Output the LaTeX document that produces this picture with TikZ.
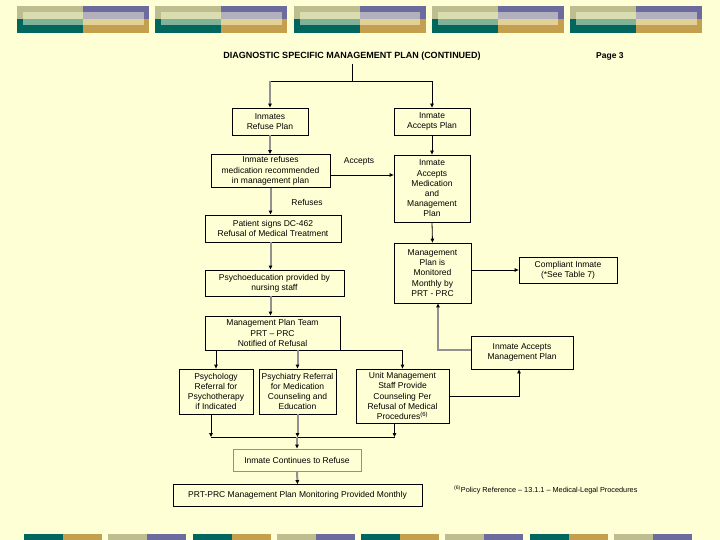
\documentclass[tikz,border=0pt]{standalone}
\usepackage{fontspec}
\setmainfont{Liberation Sans}
\usepackage{tikz}
\usetikzlibrary{arrows.meta}

\definecolor{bg}{RGB}{255,255,214}
\definecolor{lgray}{RGB}{145,145,145}
\definecolor{bandkhaki}{RGB}{189,189,143}
\definecolor{bandpurple}{RGB}{107,107,158}
\definecolor{bandteal}{RGB}{0,102,94}
\definecolor{bandgold}{RGB}{196,160,78}
\definecolor{bandkhakil}{RGB}{218,221,176}
\definecolor{bandpurplel}{RGB}{178,176,190}
\definecolor{bandteall}{RGB}{128,178,154}
\definecolor{bandgoldl}{RGB}{226,209,151}

\tikzset{
  box/.style={draw, line width=0.8pt, fill=bg, align=center, inner sep=1pt,
    font=\fontsize{8.5}{10.2}\selectfont},
  lbl/.style={inner sep=1pt, font=\fontsize{8.5}{10.2}\selectfont},
  line/.style={line width=0.8pt},
  link/.style={line width=0.8pt, -{Triangle[length=4pt,width=3.5pt,color=black]}},
  glink/.style={link, draw=lgray, line width=2pt},
}

\begin{document}
\begin{tikzpicture}[x=1pt,y=-1pt]
    %背景と帯
    \fill[bg] (0,0) rectangle (720,540);
    \useasboundingbox (0,0) rectangle (720,540);
    \foreach \i in {0,...,4}{
      \begin{scope}[xshift={17+138.25*\i}]
        \fill[bandkhaki] (0,6) rectangle (66,19.5);
        \fill[bandpurple] (66,6) rectangle (132,19.5);
        \fill[bandteal] (0,19.5) rectangle (66,33);
        \fill[bandgold] (66,19.5) rectangle (132,33);
        \fill[bandkhakil] (6,12) rectangle (66,19.5);
        \fill[bandpurplel] (66,12) rectangle (126.5,19.5);
        \fill[bandteall] (6,19.5) rectangle (66,25.5);
        \fill[bandgoldl] (66,19.5) rectangle (126.5,25.5);
      \end{scope}
    }
    \foreach \i in {0,2,4,6}{
      \fill[bandteal, xshift={24+84.25*\i}] (0,534) rectangle (39,540);
      \fill[bandgold, xshift={24+84.25*\i}] (39,534) rectangle (78,540);
    }
    \foreach \i in {1,3,5,7}{
      \fill[bandkhaki, xshift={24+84.25*\i}] (0,534) rectangle (39,540);
      \fill[bandpurple, xshift={24+84.25*\i}] (39,534) rectangle (78,540);
    }
    %見出し
    \node[font=\bfseries\fontsize{9}{10}\selectfont] (title) at (352,56) {DIAGNOSTIC SPECIFIC MANAGEMENT PLAN (CONTINUED)};
    \node[font=\bfseries\fontsize{8.5}{10}\selectfont, anchor=west, inner sep=0pt] (page) at (596,56) {Page 3};
    %各ボックス
    \node[box, minimum width=76, minimum height=27] (refplan) at (270,121.5) {Inmates\\Refuse Plan};
    \node[box, minimum width=76, minimum height=27] (accplan) at (432,121.5) {Inmate\\Accepts Plan};
    \node[box, minimum width=119, minimum height=33] (refmed) at (270.5,171) {Inmate refuses\\medication recommended\\in management plan};
    \node[box, minimum width=76, minimum height=67] (accmed) at (432,188.5) {Inmate\\Accepts\\Medication\\and\\Management\\Plan};
    \node[box, minimum width=136, minimum height=27] (signs) at (273,228.5) {Patient signs DC-462\\Refusal of Medical Treatment};
    \node[box, minimum width=77, minimum height=60] (monitor) at (432.5,273) {Management\\Plan is\\Monitored\\Monthly by\\PRT - PRC};
    \node[box, minimum width=98, minimum height=26] (compliant) at (568,270) {Compliant Inmate\\(*See Table 7)};
    \node[box, minimum width=139, minimum height=26] (psyed) at (274.5,283) {Psychoeducation provided by\\nursing staff};
    \node[box, minimum width=135, minimum height=34] (team) at (272.5,333) {Management Plan Team\\PRT -- PRC\\Notified of Refusal};
    \node[box, minimum width=102, minimum height=33] (accmgmt) at (522,352.5) {Inmate Accepts\\Management Plan};
    \node[box, minimum width=74, minimum height=45] (psychol) at (216,391.5) {Psychology\\Referral for\\Psychotherapy\\if Indicated};
    \node[box, minimum width=77, minimum height=45] (psychia) at (297.5,391.5) {Psychiatry Referral\\for Medication\\Counseling and\\Education};
    \node[box, minimum width=93, minimum height=54] (unit) at (402.5,396) {Unit Management\\Staff Provide\\Counseling Per\\Refusal of Medical\\Procedures\textsuperscript{(6)}};
    \node[box, draw=lgray, minimum width=128, minimum height=22] (cont) at (297,460) {Inmate Continues to Refuse};
    \node[box, minimum width=249, minimum height=22] (prt) at (297.5,495.5) {PRT-PRC Management Plan Monitoring Provided Monthly};
    \node[anchor=west, inner sep=0pt, font=\fontsize{7.3}{9}\selectfont] (note) at (454,490) {\textsuperscript{(6)}Policy Reference -- 13.1.1 -- Medical-Legal Procedures};
    \node[lbl] (acclbl) at (359,161) {Accepts};
    \node[lbl] (reflbl) at (307,202) {Refuses};
    %矢印
    \coordinate (split) at (352,81);
    \draw[line] (title.south) -- (split);
    \draw[line] (split -| refplan.north) -- (split -| accplan.north);
    \draw[glink] (split -| refplan.north) -- (refplan.north);
    \draw[link] (split -| accplan.north) -- (accplan.north);
    \draw[glink] (refplan.south) -- (refplan.south |- refmed.north);
    \draw[link] ([yshift=-4pt]refmed.east) -- ([yshift=-4pt]refmed.east -| accmed.west);
    \draw[link] (accplan.south) -- (accmed.north);
    \draw[glink] (refmed.south) -- (refmed.south |- signs.north);
    \draw[link] (accmed.south) -- (monitor.north);
    \draw[link] (compliant.west -| monitor.east) -- (compliant.west);
    \draw[glink] (refmed.south |- signs.south) -- (refmed.south |- psyed.north);
    \draw[glink] (refmed.south |- psyed.south) -- (refmed.south |- team.north);
    \draw[glink] ([yshift=3pt]accmgmt.west) -| ([xshift=5.5pt]monitor.south);
    \draw[link] (unit.east) -| ([xshift=-3pt]accmgmt.south);
    %分岐と合流
    \draw[line] (team.south -| psychol.north) -- (team.south -| unit.north);
    \draw[link] (team.south -| psychol.north) -- (psychol.north);
    \draw[glink] (team.south -| psychia.north) -- (psychia.north);
    \draw[link] (team.south -| unit.north) -- (unit.north);
    \coordinate (join) at (297,437);
    \draw[line] ([xshift=-5pt]psychol.south |- join) -- ([xshift=-8pt]unit.south |- join);
    \draw[link] ([xshift=-5pt]psychol.south) -- ([xshift=-5pt]psychol.south |- join);
    \draw[glink] (psychia.south) -- (psychia.south |- join);
    \draw[link] ([xshift=-8pt]unit.south) -- ([xshift=-8pt]unit.south |- join);
    \draw[glink] (join) -- (cont.north);
    \draw[glink] (cont.south) -- (prt.north);
  \end{tikzpicture}
\end{document}
